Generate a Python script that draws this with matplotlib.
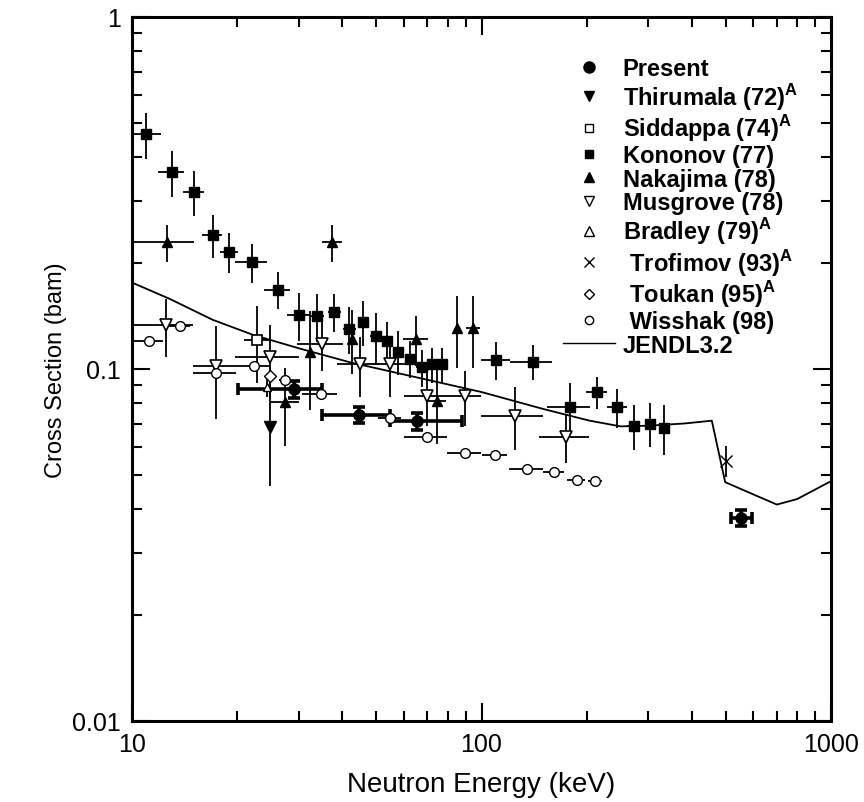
import numpy as np
import matplotlib
matplotlib.use("Agg")
import matplotlib.pyplot as plt
from matplotlib.lines import Line2D
from matplotlib.ticker import FixedLocator, NullFormatter, LogLocator

plt.rcParams['font.family'] = ['Liberation Sans', 'DejaVu Sans']
plt.rcParams['mathtext.fontset'] = 'custom'
plt.rcParams['mathtext.rm'] = 'Liberation Sans'
plt.rcParams['mathtext.bf'] = 'Liberation Sans:bold'

# Present work (asymmetric energy bins)
pres_x = [29.1, 44.7, 65.5, 552.0]
pres_y = [0.0877, 0.0742, 0.0710, 0.0377]
pres_xlo = [9.0, 9.8, 10.8, 36.0]
pres_xhi = [5.8, 10.0, 22.7, 41.0]
pres_dy = [0.0048, 0.0038, 0.0038, 0.0020]

thir_x = [24.9]
thir_y = [0.0684]
thir_dy = [0.022]

sidd_x = [22.8]
sidd_y = [0.121]
sidd_dx = [1.9]
sidd_dy = [0.03]

kon_x = [10.97, 13.0, 15.0, 17.0, 19.0, 22.0, 26.1, 30.1, 33.9, 37.9, 41.9,
         45.9, 49.9, 53.5, 57.8, 62.4, 67.4, 72.3, 77.2, 110, 140, 179, 214,
         244, 273, 303, 333]
kon_y = [0.465, 0.363, 0.318, 0.240, 0.215, 0.201, 0.168, 0.142, 0.141,
         0.145, 0.130, 0.136, 0.124, 0.120, 0.112, 0.107, 0.101, 0.103,
         0.103, 0.106, 0.105, 0.078, 0.086, 0.078, 0.069, 0.070, 0.068]
kon_dx = [1.1, 1.1, 1.05, 1.1, 1.15, 2.35, 2.25, 2.3, 1.5, 1.6, 1.7, 1.6,
          1.8, 2.0, 2.0, 1.5, 2.5, 2.0, 2.0, 10.5, 19.5, 25, 15, 16, 12, 8, 10]
kon_dy = [0.07, 0.054, 0.046, 0.033, 0.028, 0.025, 0.02, 0.022, 0.022,
          0.018, 0.02, 0.02, 0.02, 0.016, 0.016, 0.013, 0.012, 0.012, 0.012,
          0.013, 0.012, 0.013, 0.009, 0.01, 0.01, 0.01, 0.011]

naka_x = [12.57, 27.4, 32.3, 37.4, 42.5, 64.9, 74.4, 85.3, 94.7]
naka_y = [0.229, 0.0806, 0.1115, 0.229, 0.1217, 0.1217, 0.0813, 0.1308, 0.1308]
naka_dx = [2.5, 2.6, 0, 2.5, 0, 5.2, 4.8, 0, 4.5]
naka_dy = [0.027, 0.02, 0.035, 0.027, 0.025, 0.02, 0.02, 0.03, 0.03]

mus_x = [12.5, 17.4, 24.9, 34.9, 44.9, 54.9, 69.7, 89.7, 124.7, 174.5]
mus_y = [0.1334, 0.1022, 0.108, 0.118, 0.1033, 0.1033, 0.084, 0.084, 0.0737, 0.064]
mus_dx = [2.4, 2.5, 5.2, 5.2, 6.3, 6.0, 9.8, 10.2, 25, 28.5]
mus_dy = [0.025, 0.03, 0.025, 0.019, 0.02, 0.02, 0.015, 0.015, 0.015, 0.01]

brad_x = [24.4]
brad_y = [0.0891]
brad_dy = [0.006]

trof_x = [500]
trof_y = [0.0549]
trof_dy = [0.0057]

touk_x = [24.9]
touk_y = [0.0955]
touk_dy = [0.005]

wiss_x = [11.18, 13.7, 17.4, 22.3, 27.4, 34.7, 54.7, 69.7, 89.7, 109.2,
          134.6, 161.3, 187, 211.3]
wiss_y = [0.1203, 0.1322, 0.0975, 0.1022, 0.093, 0.0849, 0.0724, 0.0642,
          0.0577, 0.0571, 0.0520, 0.0511, 0.0484, 0.0482]
wiss_dx = [1.1, 1.0, 2.5, 2.4, 1.0, 4.0, 4.0, 9.8, 10, 9, 15, 11, 11, 10]

jendl_x = [10, 12.85, 17, 22.2, 30, 42, 58.5, 100, 150, 204, 250, 300, 380,
           456, 498, 600, 700, 800, 1000]
jendl_y = [0.176, 0.158, 0.138, 0.125, 0.1145, 0.1045, 0.097, 0.086, 0.077,
           0.0713, 0.0687, 0.069, 0.070, 0.0713, 0.0477, 0.044, 0.0412,
           0.0427, 0.048]

fig = plt.figure(figsize=(8.64, 8.03), dpi=100)
ax = fig.add_axes([0.1528, 0.1009, 0.809, 0.8767])

ekw = dict(ecolor='k', elinewidth=1.3, capsize=0, ls='none')

ax.plot(jendl_x, jendl_y, color='k', lw=1.3)

ax.errorbar(kon_x, kon_y, xerr=kon_dx, yerr=kon_dy, fmt='s', ms=6.5,
            mfc='k', mec='k', **ekw)
ax.errorbar(naka_x, naka_y, xerr=naka_dx, yerr=naka_dy, fmt='^', ms=7.5,
            mfc='k', mec='k', **ekw)
ax.errorbar(mus_x, mus_y, xerr=mus_dx, yerr=mus_dy, fmt='v', ms=8.5,
            mfc='white', mec='k', mew=1.2, **ekw)
ax.errorbar(wiss_x, wiss_y, xerr=wiss_dx, fmt='o', ms=7,
            mfc='white', mec='k', mew=1.0, **ekw)
ax.errorbar(sidd_x, sidd_y, xerr=sidd_dx, yerr=sidd_dy, fmt='s', ms=7,
            mfc='white', mec='k', mew=1.2, **ekw)
ax.errorbar(thir_x, thir_y, yerr=thir_dy, fmt='v', ms=8,
            mfc='k', mec='k', **ekw)
ax.errorbar(brad_x, brad_y, yerr=brad_dy, fmt='^', ms=6,
            mfc='white', mec='k', mew=1.0, **ekw)
ax.errorbar(touk_x, touk_y, yerr=touk_dy, fmt='D', ms=6,
            mfc='white', mec='k', mew=1.0, **ekw)
ax.errorbar(trof_x, trof_y, yerr=trof_dy, fmt='x', ms=9, mec='k', mew=1.0,
            **ekw)
ax.errorbar(pres_x, pres_y, xerr=[pres_xlo, pres_xhi], yerr=pres_dy, fmt='o',
            ms=8, mfc='k', mec='k', ecolor='k', elinewidth=2.6, capsize=4,
            capthick=2.6, ls='none')

ax.set_xscale('log')
ax.set_yscale('log')
ax.set_xlim(10, 1000)
ax.set_ylim(0.01, 1)

ax.xaxis.set_major_locator(FixedLocator([10, 100, 1000]))
ax.xaxis.set_ticklabels(['10', '100', '1000'])
ax.yaxis.set_major_locator(FixedLocator([0.01, 0.1, 1]))
ax.yaxis.set_ticklabels(['0.01', '0.1', '1'])
ax.xaxis.set_minor_locator(LogLocator(base=10, subs=np.arange(2, 10)))
ax.yaxis.set_minor_locator(LogLocator(base=10, subs=np.arange(2, 10)))
ax.xaxis.set_minor_formatter(NullFormatter())
ax.yaxis.set_minor_formatter(NullFormatter())

ax.tick_params(which='both', direction='in', top=True, right=True, width=1.5)
ax.tick_params(which='major', length=13, labelsize=18, pad=8)
ax.tick_params(which='minor', length=7)
for s in ax.spines.values():
    s.set_linewidth(2.2)

ax.set_xlabel('Neutron Energy (keV)', fontsize=20, labelpad=11)
ax.set_ylabel('Cross Section (bam)', fontsize=17, labelpad=4)

handles = [
    Line2D([], [], ls='none', marker='o', ms=8, mfc='k', mec='k'),
    Line2D([], [], ls='none', marker='v', ms=7, mfc='k', mec='k'),
    Line2D([], [], ls='none', marker='s', ms=5.5, mfc='white', mec='k', mew=1.0),
    Line2D([], [], ls='none', marker='s', ms=6, mfc='k', mec='k'),
    Line2D([], [], ls='none', marker='^', ms=7, mfc='k', mec='k'),
    Line2D([], [], ls='none', marker='v', ms=7, mfc='white', mec='k', mew=1.0),
    Line2D([], [], ls='none', marker='^', ms=7, mfc='white', mec='k', mew=1.0),
    Line2D([], [], ls='none', marker='x', ms=7, mec='k', mew=1.0),
    Line2D([], [], ls='none', marker='D', ms=5.5, mfc='white', mec='k', mew=1.0),
    Line2D([], [], ls='none', marker='o', ms=6, mfc='white', mec='k', mew=1.0),
    Line2D([], [], color='k', lw=1.0),
]
labels = [
    'Present',
    r'Thirumala (72)$^{\mathbf{A}}$',
    r'Siddappa (74)$^{\mathbf{A}}$',
    'Kononov (77)',
    'Nakajima (78)',
    'Musgrove (78)',
    r'Bradley (79)$^{\mathbf{A}}$',
    r' Trofimov (93)$^{\mathbf{A}}$',
    r' Toukan (95)$^{\mathbf{A}}$',
    ' Wisshak (98)',
    'JENDL3.2',
]
ax.legend(handles, labels, loc='upper left', bbox_to_anchor=(0.616, 0.943),
          frameon=False, prop={'weight': 'bold', 'size': 17},
          handlelength=2.2, handletextpad=0.35, labelspacing=0.03,
          borderpad=0, borderaxespad=0)

fig.savefig('out.png', dpi=100)
